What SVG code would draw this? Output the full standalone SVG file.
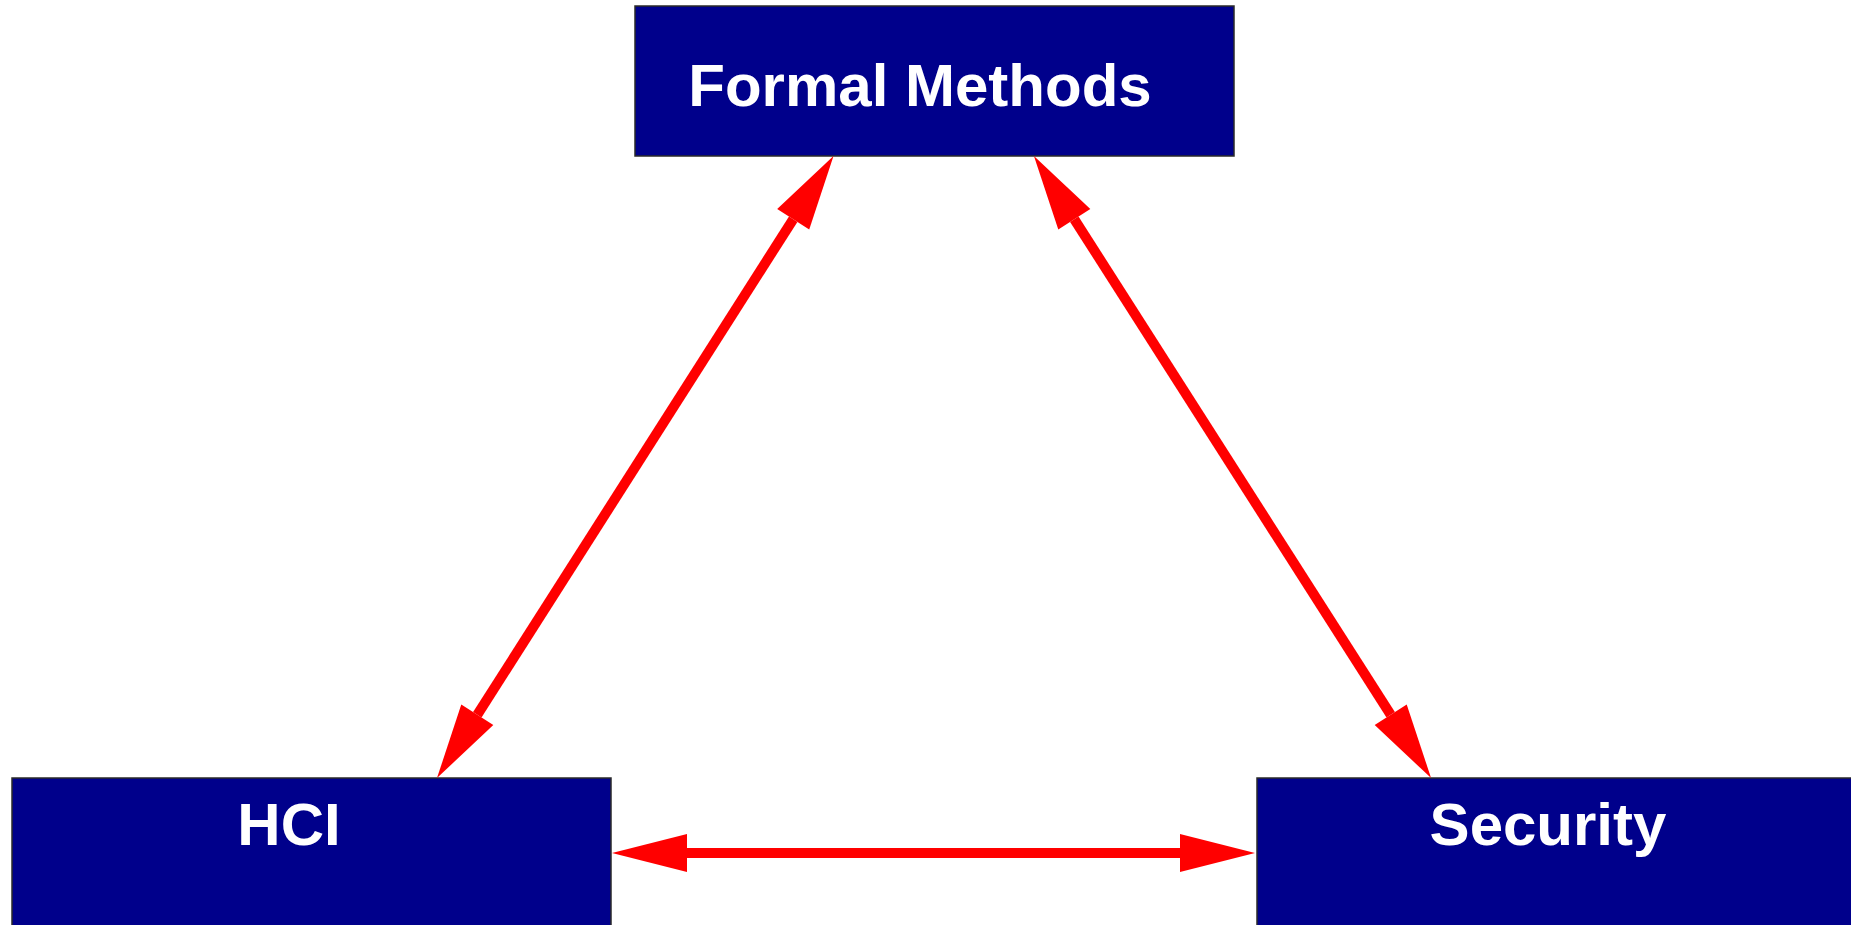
<svg xmlns="http://www.w3.org/2000/svg" width="1851" height="925" viewBox="0 0 1851 925">
<style>
.box{fill:#00008B;stroke:#2a2a2a;stroke-width:1.5}
.lbl{font-family:"Liberation Sans",Arial,sans-serif;font-weight:bold;font-size:60px;fill:#ffffff;text-anchor:middle}
.conn{stroke:#ff0000;stroke-width:10;fill:none;marker-start:url(#ah);marker-end:url(#ah)}
</style>
<defs>
<marker id="ah" markerUnits="userSpaceOnUse" markerWidth="80" markerHeight="40" viewBox="0 -20 76 40" refX="0" refY="0" orient="auto-start-reverse" overflow="visible">
<path d="M0,-19 L75,0 L0,19 Z" fill="#ff0000"/>
</marker>
</defs>
<rect width="1851" height="925" fill="#ffffff"/>
<g id="formal-methods">
<rect class="box" x="635" y="6" width="599" height="150"/>
<text class="lbl" x="920" y="106">Formal Methods</text>
</g>
<g id="hci">
<rect class="box" x="12" y="778" width="599" height="160"/>
<text class="lbl" x="289" y="845">HCI</text>
</g>
<g id="security">
<rect class="box" x="1257" y="778" width="610" height="160"/>
<text class="lbl" x="1548" y="845">Security</text>
</g>
<g id="connectors">
<line class="conn" x1="793.2" y1="219.2" x2="477.3" y2="714.8"/>
<line class="conn" x1="1074.3" y1="219.2" x2="1390.7" y2="714.8"/>
<line class="conn" x1="687" y1="853" x2="1180" y2="853"/>
</g>
</svg>
